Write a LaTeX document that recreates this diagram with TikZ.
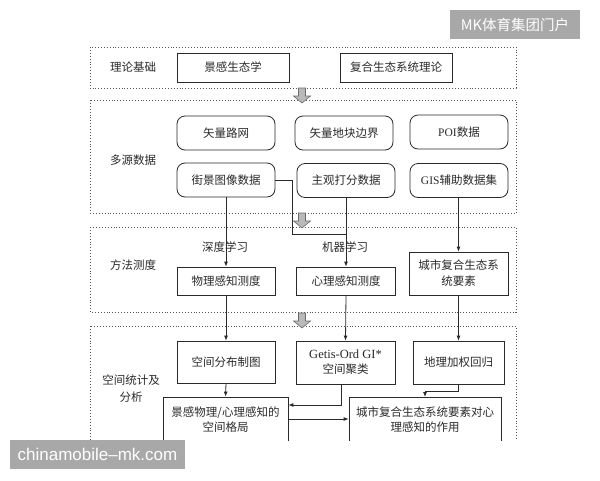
\documentclass[tikz,border=0pt]{standalone}
\usepackage{fontspec}
\newfontfamily\cjk{Noto Sans CJK SC}
\newfontfamily\latinserif{Liberation Serif}
\newfontfamily\wmfont{Liberation Sans}
\usetikzlibrary{arrows.meta}
\definecolor{ink}{HTML}{2A2A2A}
\definecolor{wmgray}{HTML}{A8A8A8}
\tikzset{
  sect/.style={draw=ink!80, dotted, line width=0.9pt},
  lab/.style={font=\cjk\fontsize{11.5}{14}\selectfont, text=ink, align=center},
  box/.style={draw=ink, line width=0.8pt, rectangle, inner sep=1pt, align=center,
    font=\cjk\fontsize{11.5}{15}\selectfont, text=ink},
  rbox/.style={box, rounded corners=8pt},
  conn/.style={draw=ink, line width=0.8pt},
  arr/.style={conn, -{Latex[length=5pt,width=4pt]}},
  blockarrow/.style={fill=gray!55, draw=ink!70, line width=0.6pt},
  wm/.style={fill=wmgray, text=white, inner sep=0pt}
}
\begin{document}
\begin{tikzpicture}[x=1pt,y=-1pt]
\path[fill=white] (0,0) rectangle (600,480);
\useasboundingbox (0,0) rectangle (600,480);
\begin{scope}
\clip (0,0) rectangle (600,440);
% section frames
\draw[sect] (90,47) rectangle (516,88);
\draw[sect] (90,100) rectangle (516,213);
\draw[sect] (90,227) rectangle (516,312);
\draw[sect] (90,326) rectangle (516,500);
% section labels
\node[lab] (l1) at (133,67) {理论基础};
\node[lab] (l2) at (133,160) {多源数据};
\node[lab] (l3) at (133,265) {方法测度};
\node[lab, font=\cjk\fontsize{11.5}{17}\selectfont] (l4) at (131,388.5) {空间统计及\\分析};
% block arrows
\foreach \t in {88,213,313}{
  \draw[blockarrow] (298.5,\t) -- (305.5,\t) -- (305.5,\t+8) -- (310.5,\t+8)
    -- (302,\t+15) -- (293.5,\t+8) -- (298.5,\t+8) -- cycle;
}
% theory
\node[box, minimum width=112, minimum height=29] (b1) at (233,67.5) {景感生态学};
\node[box, minimum width=112, minimum height=29] (b2) at (396,67.5) {复合生态系统理论};
% data sources
\node[rbox, minimum width=98, minimum height=34] (r1) at (226,133) {矢量路网};
\node[rbox, minimum width=98, minimum height=34] (r2) at (344,133) {矢量地块边界};
\node[rbox, minimum width=98, minimum height=34] (r3) at (459,132) {{\latinserif POI}数据};
\node[rbox, minimum width=98, minimum height=34] (r4) at (226,180) {街景图像数据};
\node[rbox, minimum width=98, minimum height=34] (r5) at (346,180.5) {主观打分数据};
\node[rbox, minimum width=98, minimum height=34] (r6) at (459,180.5) {{\latinserif GIS}辅助数据集};
% methods
\node[lab] (t1) at (225,247) {深度学习};
\node[lab] (t2) at (345,247) {机器学习};
\node[box, minimum width=98, minimum height=28] (m1) at (226,281) {物理感知测度};
\node[box, minimum width=99, minimum height=28] (m2) at (346,281) {心理感知测度};
\node[box, minimum width=99, minimum height=43, font=\cjk\fontsize{11.5}{16}\selectfont] (m3) at (458.5,273.5) {城市复合生态系\\统要素};
% spatial analysis
\node[box, minimum width=98, minimum height=42] (s1) at (226,362) {空间分布制图};
\node[box, minimum width=99, minimum height=43, font=\cjk\fontsize{11.5}{15}\selectfont] (s2) at (345.5,362.5) {{\latinserif\fontsize{12.5}{15}\selectfont Getis-Ord GI*}\\空间聚类};
\node[box, minimum width=91, minimum height=43] (s3) at (458.5,362.5) {地理加权回归};
\node[box, minimum width=125, minimum height=46] (s4) at (225.5,420) {景感物理/心理感知的\\空间格局};
\node[box, minimum width=152, minimum height=46] (s5) at (425,420) {城市复合生态系统要素对心\\理感知的作用};
% connectors
\draw[arr] (r4.south) -- (m1.north);
\draw[conn] (r4.east) -- ++(17,0) coordinate (k1) |- (346,234) coordinate (k2);
\draw[arr] (r5.south) -- (m2.north);
\draw[arr] (r6.south -| m3.north) -- (m3.north);
\draw[arr] (m1.south) -- (s1.north);
\draw[arr] (m2.south) -- (s2.north);
\draw[arr] (m3.south) -- (s3.north);
\draw[arr] (s1.south) -- (s4.north);
\draw[arr] ([xshift=-4.5pt]s2.south) |- ([yshift=15pt]s4.east);
\draw[arr] ([yshift=1pt]s4.east) -- ([yshift=1pt]s4.east -| s5.west);
\draw[arr] (s3.south) -- ++(0,7) coordinate (k3) -| (425,397) coordinate (k4);
\end{scope}
% watermarks
\node[wm, minimum width=130, minimum height=29, font=\cjk\fontsize{14.5}{16}\selectfont] (w1) at (515,24.5) {MK体育集团门户};
\node[wm, minimum width=175, minimum height=29, font=\wmfont\fontsize{17}{19}\selectfont] (w2) at (97.5,454.5) {chinamobile–mk.com};
\end{tikzpicture}
\end{document}
